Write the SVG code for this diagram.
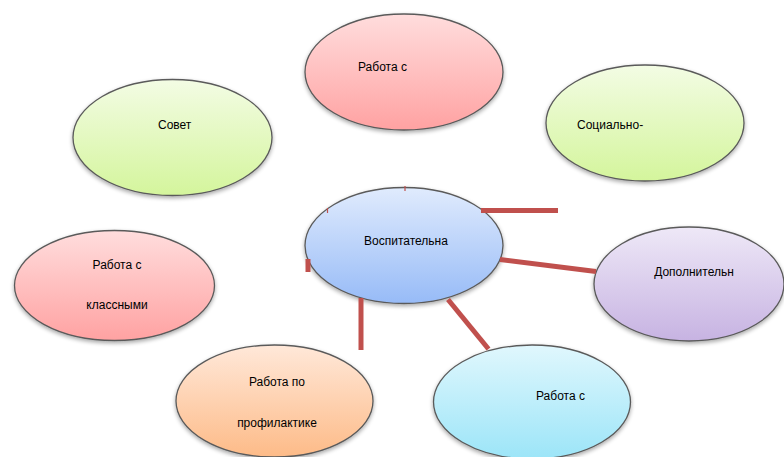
<svg xmlns="http://www.w3.org/2000/svg" width="784" height="457" viewBox="0 0 784 457">
<defs>
<linearGradient id="gRed" x1="0" y1="0" x2="0" y2="1"><stop offset="0" stop-color="#FFDDDD"/><stop offset="1" stop-color="#FFA2A2"/></linearGradient>
<linearGradient id="gGreen" x1="0" y1="0" x2="0" y2="1"><stop offset="0" stop-color="#F3FCE4"/><stop offset="1" stop-color="#D4F59C"/></linearGradient>
<linearGradient id="gBlue" x1="0" y1="0" x2="0" y2="1"><stop offset="0" stop-color="#E0EBFD"/><stop offset="1" stop-color="#97BBF7"/></linearGradient>
<linearGradient id="gPurple" x1="0" y1="0" x2="0" y2="1"><stop offset="0" stop-color="#EEE8F7"/><stop offset="1" stop-color="#C7B3E2"/></linearGradient>
<linearGradient id="gCyan" x1="0" y1="0" x2="0" y2="1"><stop offset="0" stop-color="#E0F7FD"/><stop offset="1" stop-color="#9CE5F8"/></linearGradient>
<linearGradient id="gOrange" x1="0" y1="0" x2="0" y2="1"><stop offset="0" stop-color="#FFE8D9"/><stop offset="1" stop-color="#FDBB88"/></linearGradient>
<filter id="sh" x="-10%" y="-10%" width="120%" height="130%">
<feGaussianBlur in="SourceAlpha" stdDeviation="2"/>
<feOffset dx="0" dy="2" result="b"/>
<feComponentTransfer><feFuncA type="linear" slope="0.35"/></feComponentTransfer>
<feMerge><feMergeNode/><feMergeNode in="SourceGraphic"/></feMerge>
</filter>
</defs>
<style>
.node ellipse{stroke:#5a5a5a;stroke-width:1.3;filter:url(#sh)}
.node text{font-family:"Liberation Sans","Open Sans",sans-serif;font-size:12px;fill:#000}
.conn line{stroke:#C0504D;stroke-width:5;stroke-linecap:butt}
.conn line.thin{stroke-width:1.2}
</style>
<rect width="784" height="457" fill="#ffffff"/>
<g id="n-top">
<g class="node"><ellipse cx="404" cy="72" rx="99" ry="58" fill="url(#gRed)"/><text x="358" y="71">Работа с</text></g>
</g>
<g id="n-sovet">
<g class="node"><ellipse cx="172.5" cy="137.5" rx="99.5" ry="58" fill="url(#gGreen)"/><text x="158" y="129">Совет</text></g>
</g>
<g id="n-social">
<g class="node"><ellipse cx="645" cy="123" rx="99" ry="58" fill="url(#gGreen)"/><text x="577" y="129">Социально-</text></g>
</g>
<g id="n-class">
<g class="node"><ellipse cx="114.5" cy="285.5" rx="100" ry="55" fill="url(#gRed)"/><text x="117" y="269" text-anchor="middle">Работа с</text><text x="117" y="309" text-anchor="middle">классными</text></g>
</g>
<g id="n-dop">
<g class="node"><ellipse cx="689" cy="284" rx="95" ry="57" fill="url(#gPurple)"/><text x="694" y="276" text-anchor="middle">Дополнительн</text></g>
</g>
<g id="n-prof">
<g class="node"><ellipse cx="274.5" cy="401" rx="98.5" ry="56" fill="url(#gOrange)"/><text x="277" y="386" text-anchor="middle">Работа по</text><text x="277" y="427" text-anchor="middle">профилактике</text></g>
</g>
<g id="n-cyan">
<g class="node"><ellipse cx="532" cy="402" rx="98.5" ry="57" fill="url(#gCyan)"/><text x="536" y="400">Работа с</text></g>
</g>
<g id="n-center">
<g class="node"><ellipse cx="404" cy="245.5" rx="99" ry="58" fill="url(#gBlue)"/><text x="406" y="245" text-anchor="middle">Воспитательна</text></g>
</g>
<g id="connectors" class="conn">
<line x1="481" y1="210.5" x2="558" y2="210.5"/>
<line x1="500" y1="259.5" x2="596" y2="271.5"/>
<line x1="448" y1="299.5" x2="488.5" y2="349"/>
<line x1="361" y1="298" x2="361" y2="350"/>
<line x1="308" y1="259" x2="308" y2="272"/>
<line class="thin" x1="405" y1="186" x2="405" y2="191"/>
<line class="thin" x1="327.5" y1="208" x2="327.5" y2="213"/>
</g>
</svg>
